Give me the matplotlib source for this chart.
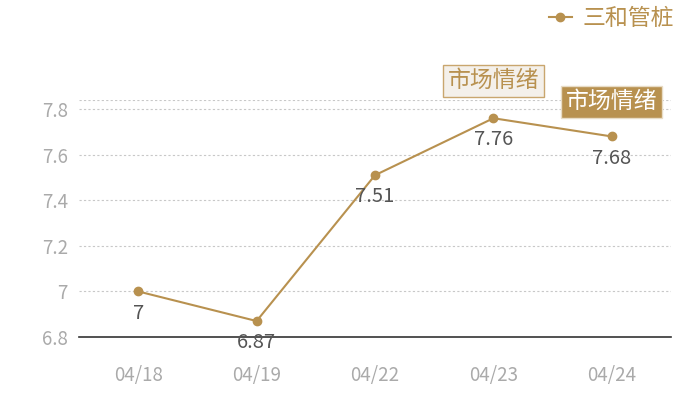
import matplotlib
matplotlib.use("Agg")
import matplotlib.pyplot as plt

plt.rcParams['font.family'] = ['Noto Sans CJK SC', 'DejaVu Sans']

dates = ['04/18', '04/19', '04/22', '04/23', '04/24']
values = [7.0, 6.87, 7.51, 7.76, 7.68]
value_labels = ['7', '6.87', '7.51', '7.76', '7.68']
series_name = '三和管桩'
y_ticks = [6.8, 7.0, 7.2, 7.4, 7.6, 7.8]
y_tick_labels = ['6.8', '7', '7.2', '7.4', '7.6', '7.8']

GOLD = '#B8914F'
x = list(range(len(dates)))

fig = plt.figure(figsize=(7, 4), dpi=100)
ax = fig.add_axes([79 / 700, 1 - 337 / 400, (671 - 79) / 700, (337 - 100) / 400])

ax.plot(x, values, color=GOLD, lw=1.5, marker='o', ms=6, label=series_name)
ax.set_xlim(-0.5, 4.5)
ax.set_ylim(6.8, 7.84)

for yv in y_ticks[1:]:
    ax.axhline(yv, color='#c8c8c8', lw=0.8, ls=(0, (2, 2)), zorder=0)
ax.axhline(7.84, color='#c8c8c8', lw=0.8, ls=(0, (2, 2)), zorder=0)

for s in ['top', 'right', 'left']:
    ax.spines[s].set_visible(False)
ax.spines['bottom'].set_color('#333333')
ax.spines['bottom'].set_linewidth(1.2)

ax.set_xticks(x)
ax.set_xticklabels(dates)
ax.set_yticks(y_ticks)
ax.set_yticklabels(y_tick_labels)
ax.tick_params(axis='both', length=0, colors='#aaaaaa', labelsize=13.5)
ax.tick_params(axis='x', pad=20)
ax.tick_params(axis='y', pad=8)

for xi, v, lab in zip(x, values, value_labels):
    ax.annotate(lab, (xi, v), xytext=(0, -8), textcoords='offset points',
                ha='center', va='top', fontsize=14.5, color='#555555')

# 市场情绪 markers
ax.annotate('市场情绪', (3, values[3]), xytext=(0, 27), textcoords='offset points',
            ha='center', va='center', fontsize=16.5, color=GOLD,
            bbox=dict(boxstyle='square,pad=0.2', fc='#F4F0EA', ec='#C9A66E', lw=1))
ax.annotate('市场情绪', (4, values[4]), xytext=(0, 25), textcoords='offset points',
            ha='center', va='center', fontsize=16.5, color='white',
            bbox=dict(boxstyle='square,pad=0.2', fc=GOLD, ec='#E8DCC6', lw=1))

fig.legend(loc='upper right', bbox_to_anchor=(0.993, 1.035), frameon=False,
           fontsize=16.5, labelcolor=GOLD, handlelength=1.0, handletextpad=0.5,
           markerscale=1.0)

fig.savefig('out.png', dpi=100)
